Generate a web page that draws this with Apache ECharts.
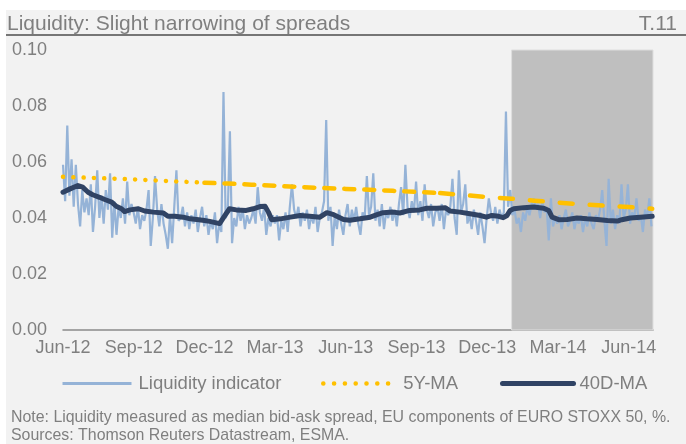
<!DOCTYPE html>
<html><head><meta charset="utf-8">
<script src="https://cdn.jsdelivr.net/npm/echarts@6/dist/echarts.min.js"></script>
<style>html,body{margin:0;padding:0;background:#fff}#c{width:686px;height:444px}</style>
</head><body><div id="c"></div>
<script>
// ---- data ----
const xTickLabels = ['Jun-12','Sep-12','Dec-12','Mar-13','Jun-13','Sep-13','Dec-13','Mar-14','Jun-14'];
const axisStart = '2012-06-01';
const axisEnd = '2014-07-02';
const shadeStart = '2014-01-02';
const shadeEnd = '2014-07-02';

// Liquidity indicator, regularly sampled from liqStart to liqEnd
const liqStart = '2012-06-01';
const liqEnd = '2014-06-30';
const liquidity = [
0.059,0.046,0.073,0.048,0.061,0.044,0.059,0.045,0.037,0.050,0.042,
0.047,0.041,0.052,0.035,0.044,0.057,0.040,0.048,0.038,0.050,0.043,
0.056,0.033,0.046,0.034,0.044,0.040,0.047,0.038,0.053,0.041,0.045,
0.042,0.038,0.044,0.036,0.041,0.039,0.043,0.050,0.030,0.040,0.055,
0.043,0.037,0.045,0.038,0.034,0.029,0.041,0.031,0.044,0.057,0.039,
0.040,0.044,0.037,0.042,0.036,0.041,0.038,0.043,0.035,0.040,0.044,
0.037,0.041,0.034,0.039,0.036,0.042,0.031,0.038,0.035,0.085,0.040,
0.042,0.071,0.031,0.040,0.037,0.044,0.039,0.043,0.036,0.041,0.038,
0.040,0.043,0.038,0.051,0.042,0.039,0.044,0.034,0.040,0.037,0.041,
0.038,0.041,0.032,0.039,0.036,0.042,0.035,0.044,0.052,0.043,0.040,
0.044,0.037,0.042,0.039,0.043,0.036,0.041,0.038,0.044,0.035,0.040,
0.042,0.046,0.075,0.039,0.044,0.030,0.041,0.036,0.043,0.038,0.034,
0.041,0.045,0.037,0.043,0.039,0.044,0.038,0.034,0.042,0.040,0.055,
0.041,0.044,0.056,0.039,0.043,0.037,0.045,0.036,0.042,0.040,0.044,
0.039,0.043,0.037,0.045,0.051,0.041,0.059,0.044,0.040,0.046,0.042,
0.053,0.041,0.046,0.039,0.052,0.043,0.040,0.045,0.037,0.042,0.044,
0.039,0.045,0.036,0.043,0.041,0.044,0.054,0.040,0.034,0.057,0.042,
0.045,0.052,0.038,0.041,0.036,0.043,0.039,0.034,0.042,0.037,0.031,
0.040,0.047,0.042,0.039,0.044,0.038,0.043,0.040,0.042,0.078,0.044,
0.050,0.041,0.043,0.038,0.040,0.035,0.042,0.039,0.044,0.041,0.045,
0.047,0.043,0.045,0.040,0.046,0.042,0.044,0.032,0.047,0.037,0.040,
0.038,0.041,0.036,0.040,0.043,0.037,0.039,0.042,0.036,0.040,0.038,
0.041,0.035,0.040,0.037,0.042,0.038,0.036,0.041,0.039,0.043,0.050,
0.039,0.030,0.054,0.038,0.043,0.036,0.041,0.038,0.052,0.040,0.043,
0.052,0.038,0.042,0.040,0.047,0.039,0.041,0.035,0.043,0.040,0.047,
0.037
];

// 5Y moving average, monthly
const ma5yDates = ['2012-06-01','2012-07-01','2012-08-01','2012-09-01','2012-10-01','2012-11-01','2012-12-01',
'2013-01-01','2013-02-01','2013-03-01','2013-04-01','2013-05-01','2013-06-01','2013-07-01','2013-08-01',
'2013-09-01','2013-10-01','2013-11-01','2013-12-01','2014-01-01','2014-02-01','2014-03-01','2014-04-01',
'2014-05-01','2014-06-01','2014-07-01'];
const ma5y = [0.0547,0.0544,0.0541,0.0538,0.0534,0.0530,0.0526,0.0523,0.0519,0.0515,0.0511,0.0507,0.0504,
0.0501,0.0497,0.0493,0.0489,0.0482,0.0475,0.0469,0.0462,0.0455,0.0449,0.0444,0.0439,0.0433];

// 40-day moving average
const ma40Dates = ['2012-06-01','2012-06-10','2012-06-20','2012-06-26','2012-07-03','2012-07-09','2012-07-18','2012-07-25',
'2012-08-03','2012-08-09','2012-08-16','2012-08-20','2012-08-27','2012-09-07','2012-09-15','2012-09-26',
'2012-10-09','2012-10-15','2012-10-24','2012-11-04','2012-11-13','2012-11-21','2012-11-29','2012-12-08',
'2012-12-21','2012-12-28','2013-01-03','2013-01-12','2013-01-25','2013-02-03','2013-02-11','2013-02-17',
'2013-02-21','2013-02-25','2013-03-08','2013-03-21','2013-04-03','2013-04-15','2013-04-28','2013-05-07',
'2013-05-16','2013-05-29','2013-06-06','2013-06-19','2013-07-02','2013-07-11','2013-07-19','2013-08-01',
'2013-08-10','2013-08-23','2013-09-05','2013-09-14','2013-09-27','2013-10-08','2013-10-14','2013-10-27',
'2013-11-09','2013-11-22','2013-11-30','2013-12-07','2013-12-16','2013-12-22','2013-12-27','2013-12-31',
'2014-01-05','2014-01-18','2014-01-31','2014-02-12','2014-02-18','2014-02-22','2014-03-02','2014-03-13',
'2014-03-26','2014-04-08','2014-04-21','2014-05-04','2014-05-17','2014-05-23','2014-06-03','2014-06-16','2014-07-01'];
const ma40 = [0.0492,0.0504,0.0516,0.0510,0.0492,0.0483,0.0474,0.0466,
0.0457,0.0442,0.0433,0.0423,0.0429,0.0433,0.0425,0.0421,
0.0418,0.0406,0.0406,0.0403,0.0397,0.0395,0.0392,0.0388,
0.0380,0.0409,0.0433,0.0429,0.0427,0.0433,0.0441,0.0442,
0.0421,0.0394,0.0397,0.0403,0.0409,0.0406,0.0403,0.0419,
0.0412,0.0395,0.0392,0.0397,0.0403,0.0412,0.0419,0.0421,
0.0418,0.0427,0.0429,0.0435,0.0435,0.0437,0.0425,0.0421,
0.0415,0.0409,0.0403,0.0409,0.0406,0.0401,0.0409,0.0427,
0.0433,0.0437,0.0439,0.0435,0.0427,0.0403,0.0394,0.0395,
0.0400,0.0397,0.0395,0.0391,0.0389,0.0394,0.0400,0.0403,0.0406];

// ---- helpers ----
function toM(s){
  const p = s.split('-').map(Number);
  const dim = new Date(p[0], p[1], 0).getDate();
  return (p[0]-2012)*12 + (p[1]-6) + (p[2]-1)/dim;
}
const FONT = "'Liberation Sans', Arial, sans-serif";
const GREY = '#7f7f7f';

const l0 = toM(liqStart), l1 = toM(liqEnd);
const liqData = liquidity.map((v,i)=>[l0 + i*(l1-l0)/(liquidity.length-1), v]);
const ma5Data = ma5yDates.map((d,i)=>[toM(d), ma5y[i]]);
const ma40Data = ma40Dates.map((d,i)=>[toM(d), ma40[i]]);

const yellow = '#FFC000';
function ma5Series(a,b,dash){
  return {name:'5Y-MA', type:'line', data: ma5Data.slice(a,b+1), showSymbol:false, symbol:'none', z:3,
    lineStyle:{color:yellow, width:4.5, type:dash, cap:'round'}, itemStyle:{color:yellow}};
}
function legendAt(name, left, iw, pad, ls){
  return {data:[name], left:left, top:374, padding:0, itemWidth:iw, itemHeight:14, selectedMode:false,
    itemStyle:{opacity:0}, lineStyle:ls,
    textStyle:{color:GREY, fontSize:18.5, fontFamily:FONT, padding:[0,0,0,pad]}};
}

const chart = echarts.init(document.getElementById('c'), null, {renderer:'canvas'});
chart.setOption({
  backgroundColor:'#f2f2f2',
  animation:false,
  textStyle:{fontFamily:FONT},
  grid:{left:63, right:33, top:50, bottom:114, containLabel:false, outerBoundsMode:'none'},
  xAxis:{type:'value', min:0, max:toM(axisEnd), interval:3,
    axisLine:{show:true, lineStyle:{color:'#8a8a8a', width:1.5}},
    axisTick:{show:false}, splitLine:{show:false},
    axisLabel:{color:GREY, fontSize:18, fontFamily:FONT, margin:9, showMaxLabel:false,
      formatter:v=>{const k=Math.round(v/3); return Math.abs(v-3*k)<1e-6 ? (xTickLabels[k]||'') : '';}}
  },
  yAxis:{type:'value', min:0, max:0.1, interval:0.02,
    axisLine:{show:false}, axisTick:{show:false}, splitLine:{show:false},
    axisLabel:{color:GREY, fontSize:18, fontFamily:FONT, margin:16, formatter:v=>v.toFixed(2)}
  },
  legend:[
    legendAt('Liquidity indicator', 61, 69, 2, {width:3}),
    legendAt('5Y-MA', 321, 69, 6, {width:4.5, type:[0.1,10.7], cap:'round'}),
    legendAt('40D-MA', 500, 71, 1, {width:5, cap:'round'})
  ],
  series:[
    {name:'Liquidity indicator', type:'line', data:liqData, showSymbol:false, symbol:'none', z:2,
      lineStyle:{color:'#95B3D7', width:2.2}, itemStyle:{color:'#95B3D7'},
      markArea:{silent:true, label:{show:false},
        itemStyle:{color:'#bfbfbf', borderColor:'#dedede', borderWidth:1},
        data:[[{xAxis:toM(shadeStart)},{xAxis:toM(shadeEnd)}]]}},
    ma5Series(0,6,[0.1,10.2]),
    ma5Series(6,16,[10,10]),
    ma5Series(16,25,[13,17]),
    {name:'40D-MA', type:'line', data:ma40Data, showSymbol:false, symbol:'none', z:4,
      lineStyle:{color:'#304364', width:5, cap:'round', join:'round'}, itemStyle:{color:'#304364'}}
  ],
  graphic:[
    {type:'rect', shape:{x:0,y:0,width:686,height:10}, style:{fill:'#fff'}, silent:true},
    {type:'rect', shape:{x:0,y:0,width:6,height:444}, style:{fill:'#fff'}, silent:true},
    {type:'line', shape:{x1:6,y1:35,x2:686,y2:35}, style:{stroke:'#767676', lineWidth:2}, silent:true},
    {type:'text', x:7, y:24, style:{text:'Liquidity: Slight narrowing of spreads', fill:GREY,
      font:"21px 'Liberation Sans', Arial, sans-serif", textVerticalAlign:'middle', verticalAlign:'middle'}},
    {type:'text', x:677, y:24, style:{text:'T.11', fill:GREY, textAlign:'right', align:'right',
      font:"21px 'Liberation Sans', Arial, sans-serif", textVerticalAlign:'middle', verticalAlign:'middle'}},
    {type:'text', x:11, y:418, style:{text:'Note: Liquidity measured as median bid-ask spread, EU components of EURO STOXX 50, %.',
      fill:GREY, font:"15.9px 'Liberation Sans', Arial, sans-serif", verticalAlign:'middle', textVerticalAlign:'middle'}},
    {type:'text', x:11, y:436, style:{text:'Sources: Thomson Reuters Datastream, ESMA.',
      fill:GREY, font:"15.9px 'Liberation Sans', Arial, sans-serif", verticalAlign:'middle', textVerticalAlign:'middle'}}
  ]
});
</script></body></html>
